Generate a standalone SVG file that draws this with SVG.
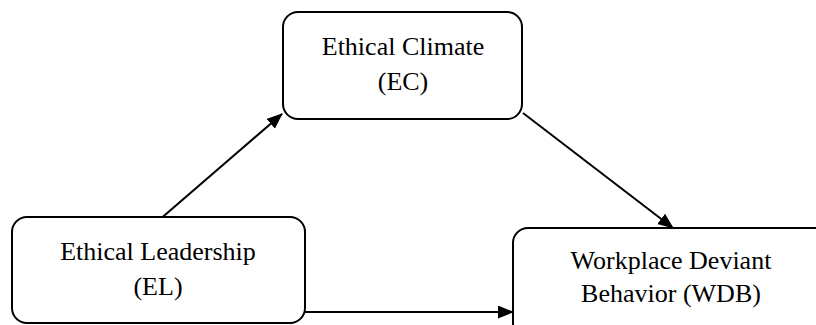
<svg xmlns="http://www.w3.org/2000/svg" width="816" height="325" viewBox="0 0 816 325">
<defs>
<marker id="ah" viewBox="0 0 16 13" refX="15" refY="6.5" markerWidth="16" markerHeight="13" markerUnits="userSpaceOnUse" orient="auto">
<path d="M0,0 L16,6.5 L0,13 z" fill="#000"/>
</marker>
<style>
.box{fill:#fff;stroke:#000;stroke-width:2}
.t{font-family:"Liberation Serif","Times New Roman",serif;font-size:26px;fill:#000;text-anchor:middle}
.c{stroke:#000;stroke-width:2;fill:none;marker-end:url(#ah)}
</style>
</defs>
<rect width="816" height="325" fill="#fff"/>
<g id="connectors">
<line class="c" x1="158" y1="221" x2="282" y2="114"/>
<line class="c" x1="523" y1="113" x2="673" y2="228"/>
<line class="c" x1="305" y1="312" x2="513" y2="312"/>
</g>
<g id="EC">
<rect class="box" x="283" y="12" width="239" height="107" rx="15"/>
<text class="t" x="403" y="55">Ethical Climate</text>
<text class="t" x="403" y="90">(EC)</text>
</g>
<g id="EL">
<rect class="box" x="12" y="217" width="293" height="106" rx="15"/>
<text class="t" x="158" y="260">Ethical Leadership</text>
<text class="t" x="158" y="295">(EL)</text>
</g>
<g id="WDB">
<rect class="box" x="513" y="228" width="320" height="110" rx="15"/>
<text class="t" x="671" y="269">Workplace Deviant</text>
<text class="t" x="671" y="302">Behavior (WDB)</text>
</g>
</svg>
